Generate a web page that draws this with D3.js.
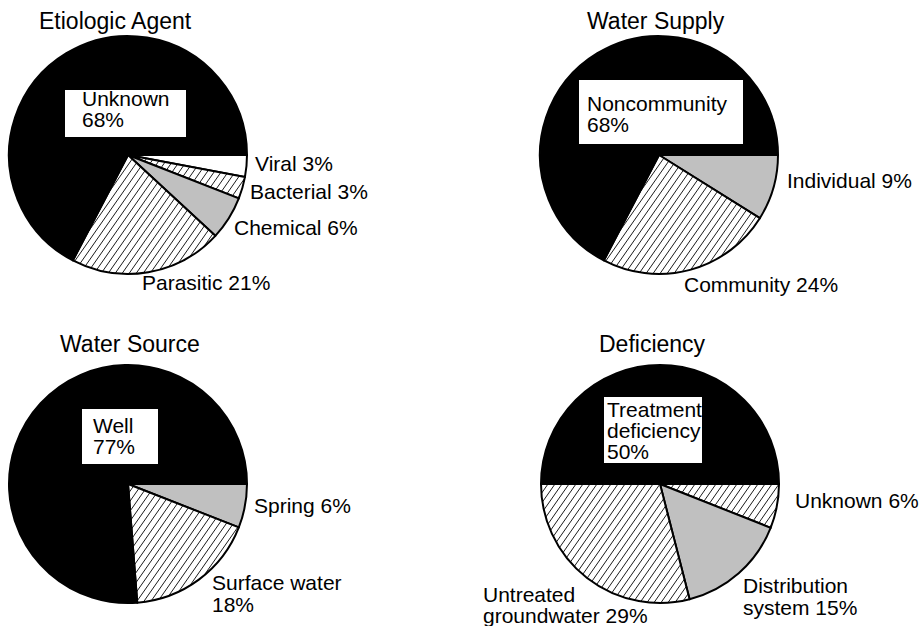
<!DOCTYPE html>
<html>
<head>
<meta charset="utf-8">
<script src="https://cdn.jsdelivr.net/npm/d3@7"></script>
<style>
  body { margin: 0; background: #fff; }
  text { font-family: "Liberation Sans", Arial, sans-serif; fill: #000; }
</style>
</head>
<body>
<svg id="chart" width="921" height="626"></svg>
<script>
// data (slices run clockwise from 3 o'clock)
const agentNames = ["Viral", "Bacterial", "Chemical", "Parasitic", "Unknown"];
const agentValues = [3, 3, 6, 21, 68];

const supplyNames = ["Individual", "Community", "Noncommunity"];
const supplyValues = [9, 24, 68];

const sourceNames = ["Spring", "Surface water", "Well"];
const sourceValues = [6, 18, 77];

const deficiencyNames = ["Unknown", "Distribution system", "Untreated groundwater", "Treatment deficiency"];
const deficiencyValues = [6, 15, 29, 50];

const titles = ["Etiologic Agent", "Water Supply", "Water Source", "Deficiency"];

// fills per slice
const agentFills = ["#fff", "url(#hatch)", "#c0c0c0", "url(#hatch)", "#000"];
const supplyFills = ["#c0c0c0", "url(#hatch)", "#000"];
const sourceFills = ["#c0c0c0", "url(#hatch)", "#000"];
const deficiencyFills = ["url(#hatch)", "#c0c0c0", "url(#hatch)", "#000"];

// layout: label offsets from the pie centre
const charts = [
  { names: agentNames, values: agentValues, fills: agentFills, title: titles[0],
    cx: 128, cy: 155, tx: 39, ty: 29,
    labels: [
      { x: 127, y: 16 },
      { x: 122, y: 44 },
      { x: 106, y: 80 },
      { x: 14, y: 135 },
      { split: true, x: -46, y: -49, lh: 21, box: [-63, -65, 121, 47] }
    ] },
  { names: supplyNames, values: supplyValues, fills: supplyFills, title: titles[1],
    cx: 659, cy: 155, tx: 587, ty: 29,
    labels: [
      { x: 128, y: 33 },
      { x: 25, y: 137 },
      { split: true, x: -72, y: -44, lh: 21, box: [-80, -75, 164, 64] }
    ] },
  { names: sourceNames, values: sourceValues, fills: sourceFills, title: titles[2],
    cx: 128, cy: 484, tx: 60, ty: 352,
    labels: [
      { x: 126, y: 29 },
      { split: true, x: 84, y: 106, lh: 22 },
      { split: true, x: -35, y: -51, lh: 21, box: [-46, -75, 76, 55] }
    ] },
  { names: deficiencyNames, values: deficiencyValues, fills: deficiencyFills, title: titles[3],
    cx: 660, cy: 484, tx: 599, ty: 352,
    labels: [
      { x: 135, y: 24 },
      { words: 1, x: 83, y: 109, lh: 22 },
      { words: 1, x: -177, y: 118, lh: 21 },
      { words: 0, x: -53, y: -67, lh: 21, box: [-56, -87, 98, 66] }
    ] }
];

const radius = 119;
const svg = d3.select("#chart");

// diagonal hatch
const pat = svg.append("defs").append("pattern")
  .attr("id", "hatch")
  .attr("patternUnits", "userSpaceOnUse")
  .attr("width", 7).attr("height", 10);
pat.append("rect").attr("width", 7).attr("height", 10).attr("fill", "#fff");
pat.append("path")
  .attr("d", "M0,10 L7,0 M-1,1.43 L1,-1.43 M6,11.43 L8,8.57")
  .attr("stroke", "#000").attr("stroke-width", 0.9);

const pie = d3.pie().sort(null)
  .startAngle(Math.PI / 2)
  .endAngle(Math.PI / 2 + 2 * Math.PI);
const arc = d3.arc().innerRadius(0).outerRadius(radius);

function labelLines(name, value, cfg) {
  const pct = value + "%";
  if (cfg.split) return [name, pct];
  if (cfg.words !== undefined) {
    const parts = name.split(" ");
    if (cfg.words === 0) return parts.concat([pct]);
    return [parts.slice(0, cfg.words).join(" "), parts.slice(cfg.words).join(" ") + " " + pct];
  }
  return [name + " " + pct];
}

charts.forEach(c => {
  svg.append("text")
    .attr("x", c.tx).attr("y", c.ty)
    .attr("font-size", 23)
    .text(c.title);

  const g = svg.append("g").attr("transform", `translate(${c.cx},${c.cy})`);
  const arcs = pie(c.values);

  g.selectAll("path.slice")
    .data(arcs)
    .join("path")
    .attr("class", "slice")
    .attr("d", arc)
    .attr("fill", (d, i) => c.fills[i])
    .attr("stroke", "#000")
    .attr("stroke-width", 2)
    .attr("stroke-linejoin", "round");

  arcs.forEach((d, i) => {
    const cfg = c.labels[i];
    if (cfg.box) {
      g.append("rect")
        .attr("x", cfg.box[0]).attr("y", cfg.box[1])
        .attr("width", cfg.box[2]).attr("height", cfg.box[3])
        .attr("fill", "#fff");
    }
    const lines = labelLines(c.names[i], c.values[i], cfg);
    const t = g.append("text")
      .attr("x", cfg.x).attr("y", cfg.y)
      .attr("font-size", 21);
    t.selectAll("tspan")
      .data(lines)
      .join("tspan")
      .attr("x", cfg.x)
      .attr("dy", (l, j) => j === 0 ? 0 : (cfg.lh || 20))
      .text(l => l);
  });
});
</script>
</body>
</html>
